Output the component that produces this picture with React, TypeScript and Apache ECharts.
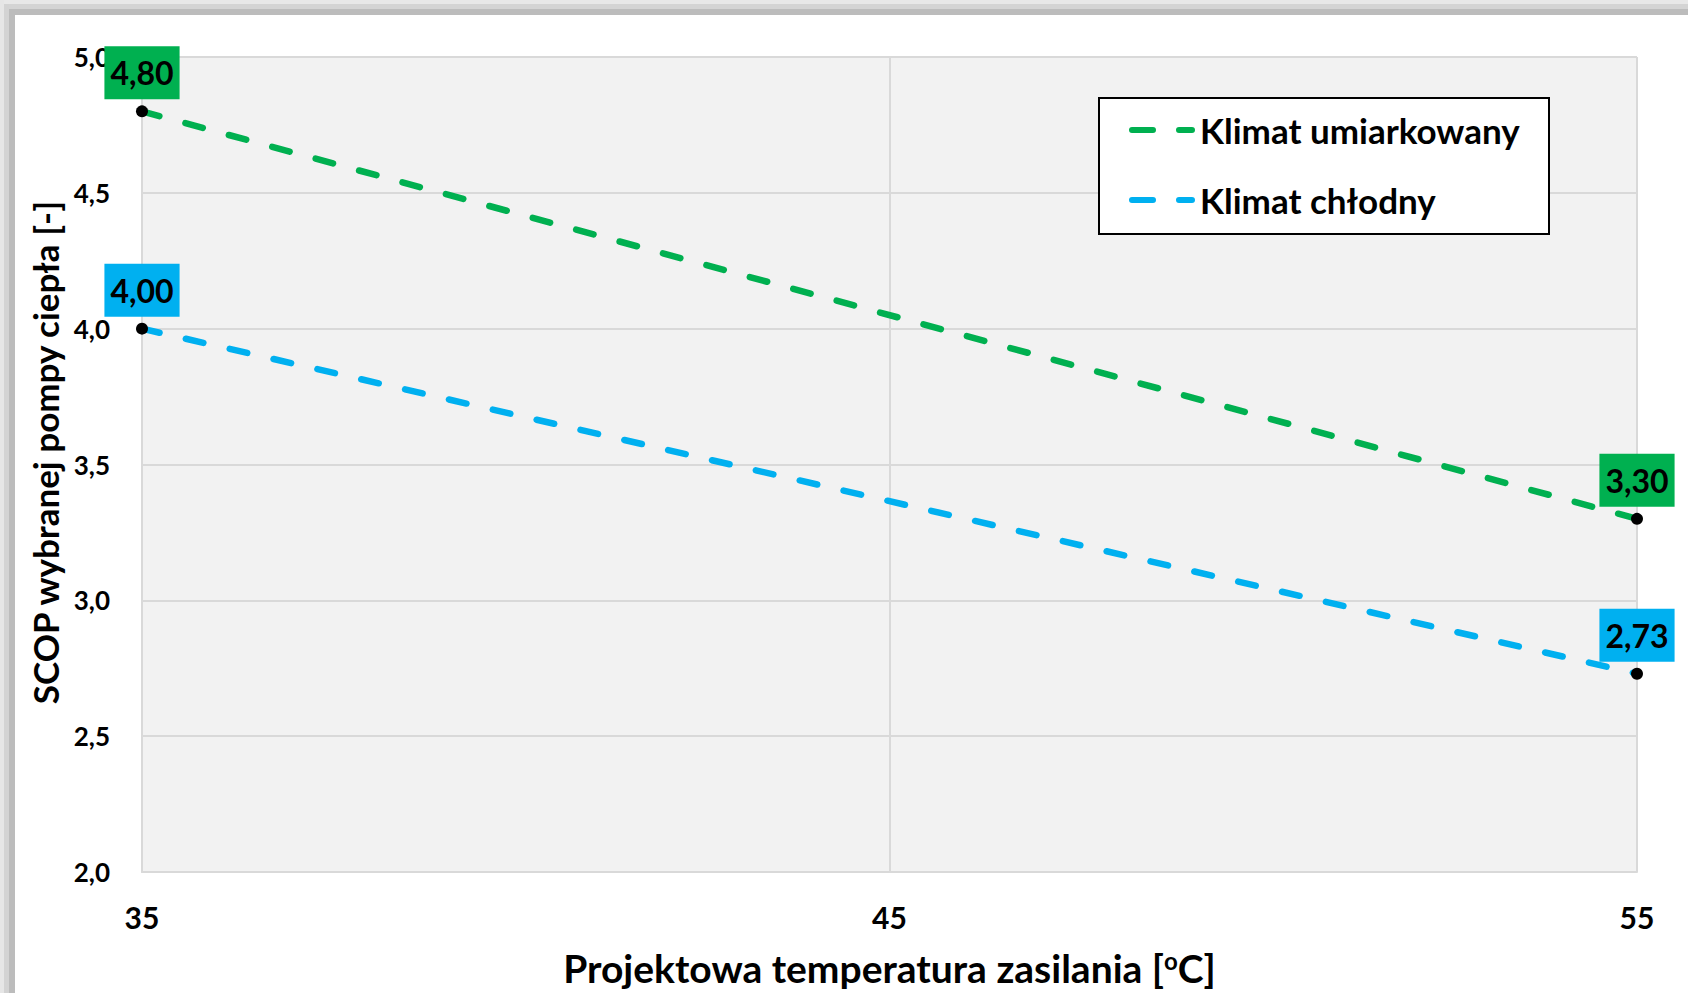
import React, { useEffect, useRef } from "react";
import * as echarts from "echarts";

const temperatures = [35, 55];
const scopUmiarkowany = [4.8, 3.3];
const scopChlodny = [4.0, 2.73];
const seriesNames = ["Klimat umiarkowany", "Klimat chłodny"];
const seriesColors = ["#00b050", "#00b0f0"];
const yTitle = "SCOP wybranej pompy ciepła [-]";
const xTitle = "Projektowa temperatura zasilania [{sup|o}C]";

const FONT = "Lato";

const legendIconPath =
  "path://M3,0 H24 A3,3 0 0 1 24,6 H3 A3,3 0 0 1 3,0 Z M50,0 H63 A3,3 0 0 1 63,6 H50 A3,3 0 0 1 50,0 Z";

function buildData(values: number[]) {
  return temperatures.map((t, i) => ({
    value: [t, values[i]],
    itemStyle: { color: "#000000" },
  }));
}

function makeSeries(name: string, values: number[], color: string) {
  return {
    name,
    type: "line",
    data: buildData(values),
    symbol: "circle",
    symbolSize: 12,
    itemStyle: { color },
    lineStyle: { color, width: 6.5, type: [18, 27], cap: "round" },
    z: 3,
    label: {
      show: true,
      position: "top",
      distance: 6,
      backgroundColor: color,
      color: "#000",
      fontFamily: FONT,
      fontWeight: "bold",
      fontSize: 32,
      lineHeight: 37,
      padding: [8, 6, 8, 6],
      formatter: (p: any) => Number(p.value[1]).toFixed(2).replace(".", ","),
    },
    emphasis: { disabled: true },
  };
}

export default function App() {
  const ref = useRef<HTMLDivElement>(null);
  useEffect(() => {
    if (!ref.current) return;
    const chart = echarts.init(ref.current, undefined, { renderer: "svg" });
    const option: any = {
      animation: false,
      backgroundColor: "#ffffff",
      grid: {
        left: 142,
        top: 57,
        right: 51,
        bottom: 121,
        show: true,
        backgroundColor: "#f2f2f2",
        borderWidth: 0,
        containLabel: false,
        outerBoundsMode: "none",
      },
      xAxis: {
        type: "value",
        min: 35,
        max: 55,
        interval: 10,
        name: xTitle,
        nameLocation: "middle",
        nameGap: 76,
        nameTextStyle: {
          fontFamily: FONT,
          fontWeight: "bold",
          fontSize: 39,
          lineHeight: 40,
          color: "#000",
          rich: {
            sup: {
              fontFamily: FONT,
              fontWeight: "bold",
              fontSize: 24,
              lineHeight: 24,
              verticalAlign: "top",
              color: "#000",
            },
          },
        },
        axisLine: { show: true, lineStyle: { color: "#d9d9d9", width: 2 } },
        axisTick: { show: false },
        splitLine: { show: true, lineStyle: { color: "#d9d9d9", width: 2 } },
        axisLabel: {
          fontFamily: FONT,
          fontWeight: "bold",
          fontSize: 30,
          color: "#000",
          margin: 30,
          formatter: (v: number) => String(v),
        },
      },
      yAxis: {
        type: "value",
        min: 2,
        max: 5,
        interval: 0.5,
        name: yTitle,
        nameLocation: "middle",
        nameRotate: 90,
        nameGap: 68,
        nameTextStyle: {
          fontFamily: FONT,
          fontWeight: "bold",
          fontSize: 35,
          color: "#000",
          padding: [0, 0, 0, 24],
        },
        axisLine: { show: true, lineStyle: { color: "#d9d9d9", width: 2 } },
        axisTick: { show: false },
        splitLine: { show: true, lineStyle: { color: "#d9d9d9", width: 2 } },
        axisLabel: {
          fontFamily: FONT,
          fontWeight: "bold",
          fontSize: 26,
          color: "#000",
          margin: 32,
          formatter: (v: number) => v.toFixed(1).replace(".", ","),
        },
      },
      legend: {
        orient: "vertical",
        left: 1129,
        top: 110,
        padding: 0,
        itemGap: 30,
        itemWidth: 66,
        itemHeight: 6,
        icon: legendIconPath,
        itemStyle: { borderWidth: 0 },
        data: seriesNames,
        textStyle: {
          fontFamily: FONT,
          fontWeight: "bold",
          fontSize: 35,
          lineHeight: 40,
          color: "#000",
        },
        selectedMode: false,
        z: 10,
      },
      graphic: [
        { type: "rect", z: 100, shape: { x: 0, y: 0, width: 1688, height: 4 }, style: { fill: "#e8e8e8" } },
        { type: "rect", z: 100, shape: { x: 0, y: 4, width: 1688, height: 5 }, style: { fill: "#d4d4d4" } },
        { type: "rect", z: 100, shape: { x: 0, y: 9, width: 1688, height: 6 }, style: { fill: "#bcbcbc" } },
        { type: "rect", z: 100, shape: { x: 0, y: 0, width: 4, height: 993 }, style: { fill: "#e6e6e6" } },
        { type: "rect", z: 100, shape: { x: 4, y: 4, width: 5, height: 989 }, style: { fill: "#d3d3d3" } },
        { type: "rect", z: 100, shape: { x: 9, y: 9, width: 6, height: 984 }, style: { fill: "#bcbcbc" } },
        {
          type: "rect",
          z: 5,
          shape: { x: 1099, y: 98, width: 450, height: 136 },
          style: { fill: "#ffffff", stroke: "#000000", lineWidth: 2 },
        },
      ],
      series: [
        makeSeries(seriesNames[0], scopUmiarkowany, seriesColors[0]),
        makeSeries(seriesNames[1], scopChlodny, seriesColors[1]),
      ],
    };
    chart.setOption(option);
    return () => chart.dispose();
  }, []);
  return (
    <div
      style={{ position: "fixed", left: 0, top: 0, width: 1688, height: 993, background: "#fff" }}
    >
      <div ref={ref} style={{ width: 1688, height: 993 }} />
    </div>
  );
}
